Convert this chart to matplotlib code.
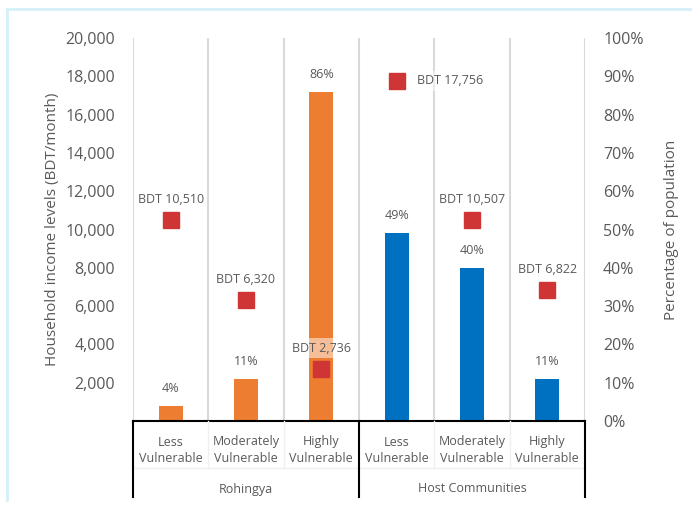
import matplotlib
matplotlib.use("Agg")
import matplotlib.pyplot as plt
from matplotlib.lines import Line2D
from matplotlib.ticker import FuncFormatter

plt.rcParams['font.family'] = ['Open Sans', 'DejaVu Sans']

# ── Data ─────────────────────────────────────────────────────────────────────
groups = ["Rohingya", "Host Communities"]
levels = ["Less\nVulnerable", "Moderately\nVulnerable", "Highly\nVulnerable"]
pct_population = [4, 11, 86, 49, 40, 11]               # % (right axis)
income_bdt = [10510, 6320, 2736, 17756, 10507, 6822]   # BDT/month (left axis)
group_colors = ["#ED7D31", "#0070C0"]

TXT = '#595959'
n = len(pct_population)
xs = list(range(n))
bar_colors = [group_colors[i // len(levels)] for i in xs]

fig = plt.figure(figsize=(6.92, 5.05), dpi=100)
ax = fig.add_axes([133 / 692, 1 - 421 / 505, 452 / 692, 383 / 505])
ax2 = ax.twinx()

# bars on the percentage axis
ax2.bar(xs, pct_population, width=0.32, color=bar_colors, zorder=2)
for x, p in zip(xs, pct_population):
    ax2.annotate(f'{p}%', (x, p), xytext=(0, 8), textcoords='offset points',
                 ha='center', va='bottom', fontsize=9, color=TXT)
ax2.set_ylim(0, 100)
ax2.set_yticks(range(0, 101, 10))
ax2.yaxis.set_major_formatter(FuncFormatter(lambda v, _: f'{v:.0f}%'))
ax2.set_ylabel('Percentage of population', color=TXT, fontsize=11, labelpad=15)

# markers on the income axis, drawn above the bars
ax.set_zorder(ax2.get_zorder() + 1)
ax.patch.set_visible(False)
ax.plot(xs, income_bdt, 's', color='#CF3535', markersize=11.5, zorder=4)
for x, v in zip(xs, income_bdt):
    lab = f'BDT {v:,}'
    box = dict(boxstyle='square,pad=0.3', fc='white', ec='none', alpha=0.5)
    if v == max(income_bdt):
        ax.annotate(lab, (x, v), xytext=(15, 0), textcoords='offset points',
                    ha='left', va='center', fontsize=9, color=TXT, bbox=box, zorder=5)
    else:
        ax.annotate(lab, (x, v), xytext=(0, 10), textcoords='offset points',
                    ha='center', va='bottom', fontsize=9, color=TXT, bbox=box, zorder=5)
ax.set_ylim(0, 20000)
ax.set_yticks(range(2000, 20001, 2000))
ax.yaxis.set_major_formatter(FuncFormatter(lambda v, _: f'{v:,.0f}'))
ax.set_ylabel('Household income levels (BDT/month)', color=TXT, fontsize=11, labelpad=4)
ax.set_xlim(-0.5, n - 0.5)
ax.set_xticks([])

for a in (ax, ax2):
    for s in ('top', 'left', 'right', 'bottom'):
        a.spines[s].set_visible(False)
    a.tick_params(axis='y', length=0, labelsize=11.5, labelcolor=TXT, pad=13)
    a.set_xlim(-0.5, n - 0.5)

# vertical gridlines between categories (behind bars)
for b in [i - 0.5 for i in range(n + 1)]:
    ax2.axvline(b, color='#D9D9D9', lw=1.5, zorder=1)

# ── two-level category axis ──────────────────────────────────────────────────
tr = ax.get_xaxis_transform()
row1 = -47 / 383          # bottom of the level row (axes fraction)
bottom = -76 / 383
line_kw = dict(transform=tr, clip_on=False)
ax.add_line(Line2D([-0.5, n - 0.5], [0, 0], color='black', lw=1.5, **line_kw))
ax.add_line(Line2D([-0.5, n - 0.5], [row1, row1], color='#F0F0F0', lw=1, **line_kw))
for b in [0.5, 1.5, 3.5, 4.5]:
    ax.add_line(Line2D([b, b], [0, row1], color='#F0F0F0', lw=1, **line_kw))
for b in [-0.5, 2.5, n - 0.5]:
    ax.add_line(Line2D([b, b], [0, bottom], color='black', lw=1.5, **line_kw))
for x in xs:
    ax.text(x, -29 / 383, levels[x % len(levels)], transform=tr, ha='center',
            va='center', fontsize=9, color=TXT, linespacing=1.3)
for g, name in enumerate(groups):
    ax.text(g * len(levels) + 1, -68 / 383, name, transform=tr,
            ha='center', va='center', fontsize=9, color=TXT)

# light frame around the chart
fig.add_artist(Line2D([7 / 692, 7 / 692], [1 - 500 / 505, 1 - 9 / 505],
                      color='#D5F0F8', lw=2))
fig.add_artist(Line2D([7 / 692, 1], [1 - 9 / 505, 1 - 9 / 505],
                      color='#D5F0F8', lw=2))

fig.savefig('out.png', dpi=100)
